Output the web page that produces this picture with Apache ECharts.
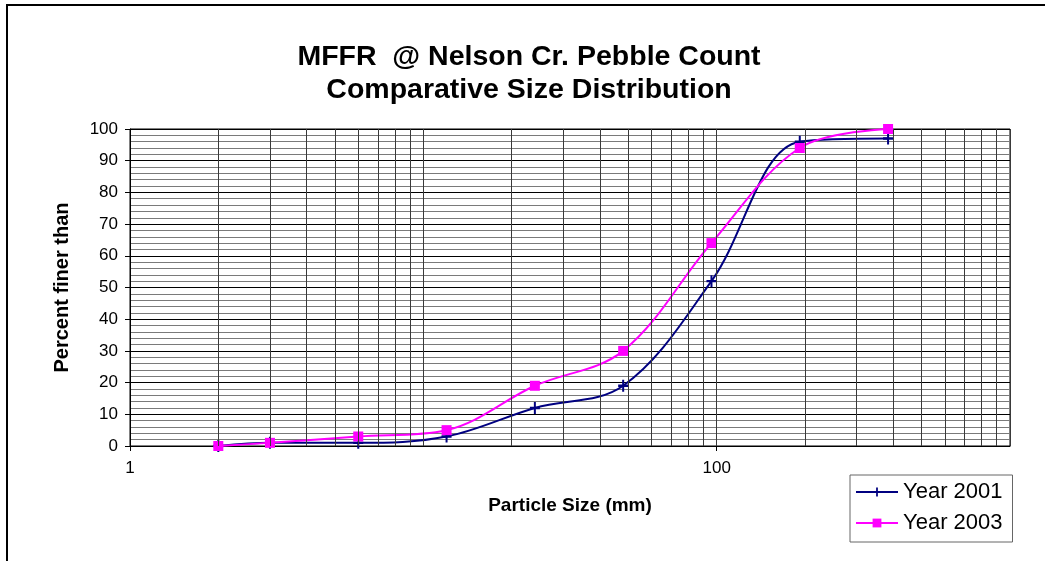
<!DOCTYPE html>
<html>
<head>
<meta charset="utf-8">
<script src="https://cdn.jsdelivr.net/npm/echarts@6/dist/echarts.min.js"></script>
<style>
html,body{margin:0;padding:0;background:#fff;}
#chart{width:1045px;height:561px;}
</style>
</head>
<body>
<div id="chart"></div>
<script>
// Data
var particleSize = [2, 3, 6, 12, 24, 48, 96, 192, 384];
var year2001 = [0, 1, 1, 3, 12, 19, 52, 96, 97];
var year2003 = [0, 1, 3, 5, 19, 30, 64, 94, 100];
var xLabelValues = [1, 100];
var seriesNames = ['Year 2001', 'Year 2003'];

// vertical log grid positions (2..9 of each decade, plus decades)
var vGrid = [];
[1, 10, 100].forEach(function (d) {
  for (var k = 2; k <= 10; k++) vGrid.push(d * k);
});

var FONT = "'Liberation Sans', Arial, sans-serif";

function pairs(xs, ys) {
  return xs.map(function (x, i) { return [x, ys[i]]; });
}

var chart = echarts.init(document.getElementById('chart'), null, {renderer: 'canvas'});
chart.setOption({
  animation: false,
  backgroundColor: '#fff',
  textStyle: {fontFamily: FONT, color: '#000'},
  graphic: [{
    type: 'rect', silent: true, z: -10,
    shape: {x: 7, y: 5, width: 1200, height: 800},
    style: {fill: 'none', stroke: '#000', lineWidth: 2}
  }],
  title: {
    text: 'MFFR  @ Nelson Cr. Pebble Count\nComparative Size Distribution',
    left: 524, top: 36, textAlign: 'center',
    textStyle: {fontFamily: FONT, fontSize: 28.5, fontWeight: 'bold', color: '#000', lineHeight: 33}
  },
  legend: {
    orient: 'vertical',
    left: 850, top: 475,
    data: seriesNames,
    backgroundColor: '#fff',
    borderColor: '#666', borderWidth: 1, borderRadius: 0,
    padding: [6, 10, 8, 5],
    itemWidth: 42, itemHeight: 11, itemGap: 9,
    textStyle: {fontFamily: FONT, fontSize: 22, color: '#000'}
  },
  grid: {left: 130, right: 35, top: 129, bottom: 115, show: true, borderColor: '#000', borderWidth: 1, backgroundColor: '#fff'},
  xAxis: {
    type: 'log', logBase: 10, min: 1, max: 1000,
    name: 'Particle Size (mm)', nameLocation: 'middle', nameGap: 50,
    nameTextStyle: {fontFamily: FONT, fontSize: 19, fontWeight: 'bold', color: '#000'},
    axisLine: {show: true, lineStyle: {color: '#000', width: 1}},
    axisTick: {show: true, customValues: xLabelValues, length: 5, lineStyle: {color: '#000'}},
    axisLabel: {customValues: xLabelValues, fontFamily: FONT, fontSize: 17, color: '#000', margin: 14},
    splitLine: {show: false},
    minorTick: {show: false},
    minorSplitLine: {show: false}
  },
  yAxis: {
    type: 'value', min: 0, max: 100, interval: 10,
    name: 'Percent finer than', nameLocation: 'middle', nameGap: 58, nameRotate: 90,
    nameTextStyle: {fontFamily: FONT, fontSize: 20, fontWeight: 'bold', color: '#000'},
    axisLine: {show: true, lineStyle: {color: '#000', width: 1}},
    axisTick: {show: true, inside: false, length: 5, lineStyle: {color: '#000'}},
    axisLabel: {fontFamily: FONT, fontSize: 17, color: '#000', margin: 12},
    splitLine: {show: true, lineStyle: {color: '#000', width: 1}},
    minorTick: {show: false, splitNumber: 5},
    minorSplitLine: {show: true, lineStyle: {color: '#7a7a7a', width: 1}}
  },
  series: [
    {
      name: '_vgrid', type: 'line', data: [], silent: true, z: 1,
      markLine: {
        silent: true, symbol: 'none', animation: false,
        label: {show: false},
        lineStyle: {color: '#3a3a3a', width: 1, type: 'solid'},
        emphasis: {disabled: true},
        data: vGrid.map(function (v) { return {xAxis: v}; })
      }
    },
    {
      name: seriesNames[0], type: 'line', z: 3,
      data: pairs(particleSize, year2001),
      smooth: 0.35,
      symbol: 'path://M4,0h2v10h-2z M0,4h10v2h-10z',
      symbolSize: [10, 12],
      itemStyle: {color: '#000080'},
      lineStyle: {color: '#000080', width: 2}
    },
    {
      name: seriesNames[1], type: 'line', z: 4,
      data: pairs(particleSize, year2003),
      smooth: 0.35,
      symbol: 'rect',
      symbolSize: 10,
      itemStyle: {color: '#FF00FF'},
      lineStyle: {color: '#FF00FF', width: 2}
    }
  ]
});
</script>
</body>
</html>
